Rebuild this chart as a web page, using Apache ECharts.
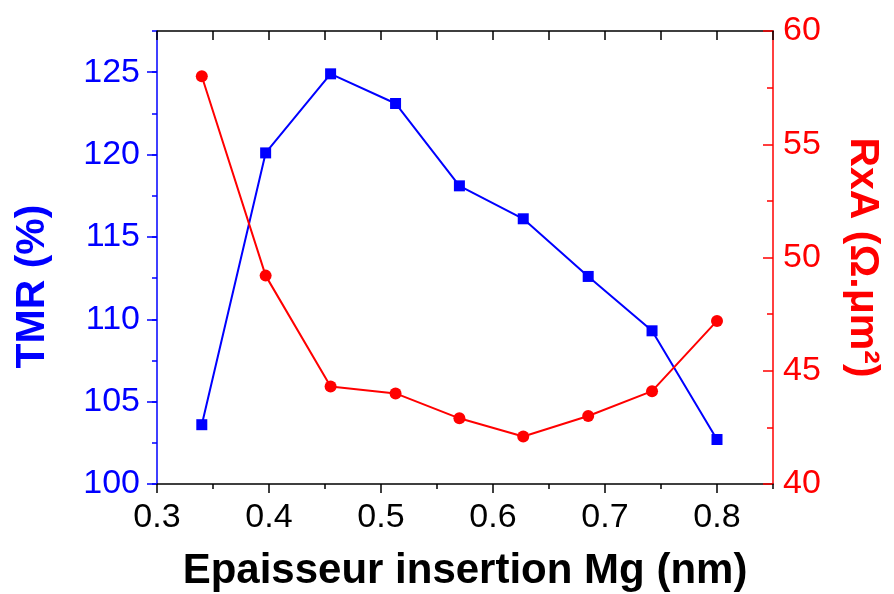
<!DOCTYPE html>
<html>
<head>
<meta charset="utf-8">
<script src="https://cdn.jsdelivr.net/npm/echarts@6/dist/echarts.min.js"></script>
<style>html,body{margin:0;padding:0;background:#fff}#c{width:894px;height:594px}</style>
</head>
<body>
<div id="c"></div>
<script>
const thickness = [0.340, 0.397, 0.455, 0.513, 0.570, 0.627, 0.685, 0.742, 0.800];
const tmr = [103.6, 120.1, 124.9, 123.1, 118.1, 116.1, 112.6, 109.3, 102.7];
const rxa = [58.0, 49.2, 44.3, 44.0, 42.9, 42.1, 43.0, 44.1, 47.2];
const xTitle = 'Epaisseur insertion Mg (nm)';
const yLeftTitle = 'TMR (%)';
const yRightTitle = 'RxA (\u03A9.\u03BCm\u00B2)';

const FONT = '"Liberation Sans", Arial, sans-serif';
const chart = echarts.init(document.getElementById('c'), null, {renderer: 'canvas'});
const pair = (xs, ys) => xs.map((x, i) => [x, ys[i]]);

chart.setOption({
  animation: false,
  backgroundColor: '#fff',
  grid: {left: 157, right: 121, top: 31, bottom: 110, containLabel: false, outerBoundsMode: 'none'},
  xAxis: [
    {
      type: 'value', position: 'bottom', min: 0.3, max: 0.85, interval: 0.1,
      axisLine: {show: true, lineStyle: {color: '#000', width: 1.5}},
      axisTick: {show: true, inside: false, length: 9, lineStyle: {color: '#000', width: 1.5}},
      axisLabel: {show: true, color: '#000', fontFamily: FONT, fontSize: 34, margin: 17, showMaxLabel: false,
        formatter: v => (v > 0.84 ? '' : v.toFixed(1))},
      splitLine: {show: false},
      name: xTitle, nameLocation: 'middle', nameGap: 66,
      nameTextStyle: {color: '#000', fontFamily: FONT, fontSize: 42, fontWeight: 'bold'}
    },
    {
      type: 'value', position: 'bottom', min: 0.3, max: 0.85, interval: 0.05,
      axisLine: {show: false},
      axisTick: {show: true, inside: false, length: 5, lineStyle: {color: '#000', width: 1.5}},
      axisLabel: {show: false}, splitLine: {show: false}
    },
    {
      type: 'value', position: 'top', min: 0.3, max: 0.85, interval: 0.05,
      axisLine: {show: true, lineStyle: {color: '#000', width: 1.5}},
      axisTick: {show: true, inside: true, length: 9, lineStyle: {color: '#000', width: 1.5}},
      axisLabel: {show: false}, splitLine: {show: false}
    }
  ],
  yAxis: [
    {
      type: 'value', position: 'left', min: 100, max: 127.5, interval: 5,
      axisLine: {show: true, lineStyle: {color: '#0000ff', width: 1.5}},
      axisTick: {show: true, inside: false, length: 10, lineStyle: {color: '#0000ff', width: 1.5}},
      axisLabel: {show: true, color: '#0000ff', fontFamily: FONT, fontSize: 34, margin: 17, showMaxLabel: false,
        formatter: v => (v % 5 === 0 ? String(v) : '')},
      splitLine: {show: false},
      name: yLeftTitle, nameLocation: 'middle', nameGap: 104, nameRotate: 90,
      nameTextStyle: {color: '#0000ff', fontFamily: FONT, fontSize: 41, fontWeight: 'bold', padding: [0, 58, 0, 0]}
    },
    {
      type: 'value', position: 'right', min: 40, max: 60, interval: 5,
      axisLine: {show: true, lineStyle: {color: '#ff0000', width: 1.5}},
      axisTick: {show: true, inside: true, length: 10, lineStyle: {color: '#ff0000', width: 1.5}},
      minorTick: {show: true, splitNumber: 2, length: 6, lineStyle: {color: '#ff0000', width: 1.5}},
      axisLabel: {show: true, color: '#ff0000', fontFamily: FONT, fontSize: 34, margin: 10},
      splitLine: {show: false},
      name: yRightTitle, nameLocation: 'middle', nameGap: 69, nameRotate: -90,
      nameTextStyle: {color: '#ff0000', fontFamily: FONT, fontSize: 41, fontWeight: 'bold'}
    },
    {
      type: 'value', position: 'left', min: 100, max: 127.5, interval: 2.5,
      axisLine: {show: false},
      axisTick: {show: true, inside: false, length: 5, lineStyle: {color: '#0000ff', width: 1.5}},
      axisLabel: {show: false}, splitLine: {show: false}
    }
  ],
  series: [
    {
      type: 'line', name: 'TMR', xAxisIndex: 0, yAxisIndex: 0,
      data: pair(thickness, tmr),
      symbol: 'rect', symbolSize: 11,
      lineStyle: {color: '#0000ff', width: 2},
      itemStyle: {color: '#0000ff'}
    },
    {
      type: 'line', name: 'RxA', xAxisIndex: 0, yAxisIndex: 1,
      data: pair(thickness, rxa),
      symbol: 'circle', symbolSize: 12,
      lineStyle: {color: '#ff0000', width: 2},
      itemStyle: {color: '#ff0000'}
    }
  ]
});
</script>
</body>
</html>
